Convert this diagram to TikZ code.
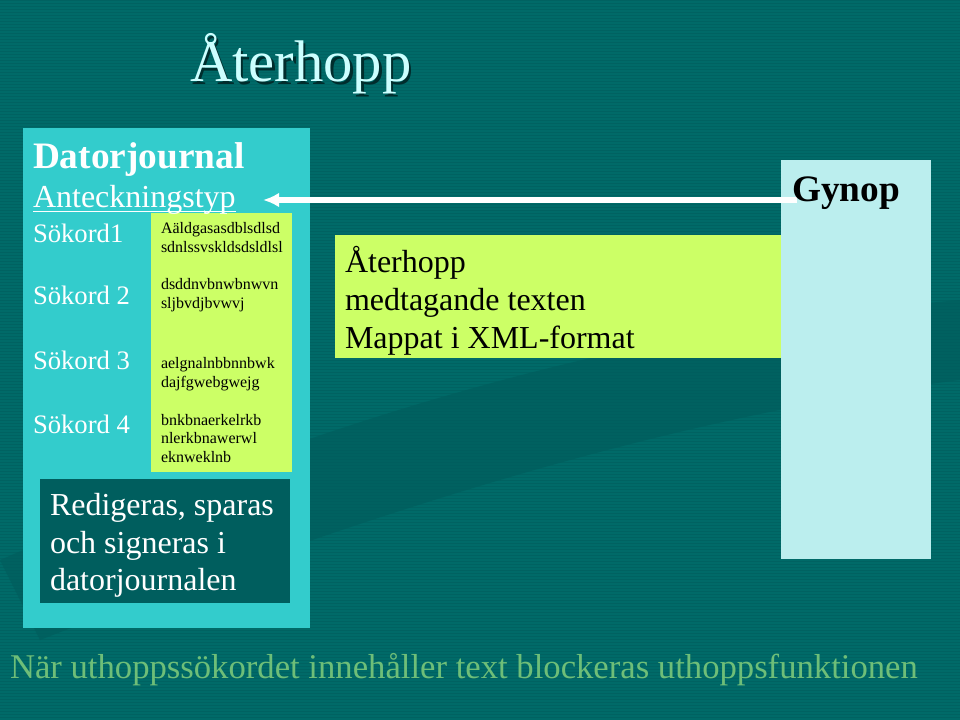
\documentclass[tikz,border=0pt]{standalone}
\usepackage{fontspec}
\setmainfont{Liberation Serif}
\usetikzlibrary{arrows.meta}
\definecolor{bgteal}{RGB}{0,106,104}
\definecolor{stripec}{RGB}{0,98,97}
\definecolor{swooshc}{RGB}{0,92,92}
\definecolor{panelc}{RGB}{51,204,204}
\definecolor{limec}{RGB}{204,255,102}
\definecolor{palec}{RGB}{187,238,238}
\definecolor{darkboxc}{RGB}{0,94,94}
\definecolor{titlec}{RGB}{204,255,255}
\definecolor{shadowc}{RGB}{0,45,45}
\definecolor{bottomc}{RGB}{110,190,120}
\pgfdeclarelayer{bglayer}
\pgfdeclarelayer{midlayer}
\pgfsetlayers{bglayer,midlayer,main}
\tikzset{
  box/.style={inner sep=0pt, outer sep=0pt, draw=none},
  txt/.style={inner sep=0pt, outer sep=0pt, anchor=base west},
  small/.style={txt, font=\fontsize{12}{14}\selectfont, text=black},
  sok/.style={txt, font=\fontsize{20}{24}\selectfont, text=white},
  big/.style={txt, font=\fontsize{24}{28}\selectfont},
}
\begin{document}
\begin{tikzpicture}[x=0.75pt,y=-0.75pt]
\useasboundingbox (0,0) rectangle (960,720);
\begin{pgfonlayer}{bglayer}
\fill[bgteal] (0,0) rectangle (960,720);
\foreach \yy in {0,3,...,720} \draw[stripec, line width=0.5pt] (0,\yy) -- (960,\yy);
\fill[swooshc, opacity=0.6] (0,560) .. controls (300,430) and (600,330) .. (960,300)
   -- (960,380) .. controls (650,420) and (350,520) .. (40,640) -- cycle;
\node[box, fill=panelc, minimum width=215.25pt, minimum height=375pt] (panel) at (166.5,378) {};
\node[box, fill=limec, minimum width=105.75pt, minimum height=194.25pt] (ordbox) at (221.5,342.5) {};
\node[box, fill=darkboxc, minimum width=187.5pt, minimum height=93pt] (redbox) at (165,541) {};
\node[box, fill=limec, minimum width=335.25pt, minimum height=92.25pt] (aterbox) at (558,296.5) {};
\node[box, fill=palec, minimum width=112.5pt, minimum height=299.25pt] (gynbox) at (856,359.5) {};
\end{pgfonlayer}

% title with shadow
\node[txt, font=\fontsize{44}{50}\selectfont, text=shadowc] (titleshadow) at (192.5,84.5) {Återhopp};
\node[txt, font=\fontsize{44}{50}\selectfont, text=titlec] (title) at (190,82) {Återhopp};

% left panel
\node[txt, font=\fontsize{28}{32}\selectfont\bfseries, text=white] (dator) at (33,169) {Datorjournal};
\node[txt, font=\fontsize{24}{28}\selectfont, text=white] (antk) at (33,208) {Anteckningstyp};
\draw[white, line width=1.1pt] ([yshift=-2.6pt]antk.base west) -- ([yshift=-2.6pt]antk.base east);

\node[sok] (s1) at (33,243) {Sökord1};
\node[sok] (s2) at (33,305) {Sökord 2};
\node[sok] (s3) at (33,369) {Sökord 3};
\node[sok] (s4) at (33,433) {Sökord 4};

\node[small] (t1a) at (161,234) {Aäldgasasdblsdlsd};
\node[small] (t1b) at (161,252.5) {sdnlssvskldsdsldlsl};
\node[small] (t2a) at (161,290) {dsddnvbnwbnwvn};
\node[small] (t2b) at (161,309) {sljbvdjbvwvj};
\node[small] (t3a) at (161,368) {aelgnalnbbnnbwk};
\node[small] (t3b) at (161,387) {dajfgwebgwejg};
\node[small] (t4a) at (161,425) {bnkbnaerkelrkb};
\node[small] (t4b) at (161,443.5) {nlerkbnawerwl};
\node[small] (t4c) at (161,462) {eknweklnb};

\node[big, text=white] (r1) at (50,515) {Redigeras, sparas};
\node[big, text=white] (r2) at (50,553) {och signeras i};
\node[big, text=white] (r3) at (50,590) {datorjournalen};

% middle box
\node[big, text=black] (a1) at (345,272.5) {Återhopp};
\node[big, text=black] (a2) at (345,310.5) {medtagande texten};
\node[big, text=black] (a3) at (345,348) {Mappat i XML-format};

% Gynop
\node[txt, font=\fontsize{28}{32}\selectfont\bfseries, text=black] (gynop) at (792,202) {Gynop};

% arrow
\coordinate (tip) at (263,200);
\begin{pgfonlayer}{midlayer}
\draw[white, line width=3.8pt, -{Latex[length=12pt,width=11pt]}] ([xshift=4pt,yshift=1.5pt]gynop.base west) -- (tip);
\end{pgfonlayer}

% bottom line
\node[txt, font=\fontsize{26}{30}\selectfont, text=bottomc] (bottom) at (10,678) {När uthoppssökordet innehåller text blockeras uthoppsfunktionen};
\end{tikzpicture}
\end{document}
